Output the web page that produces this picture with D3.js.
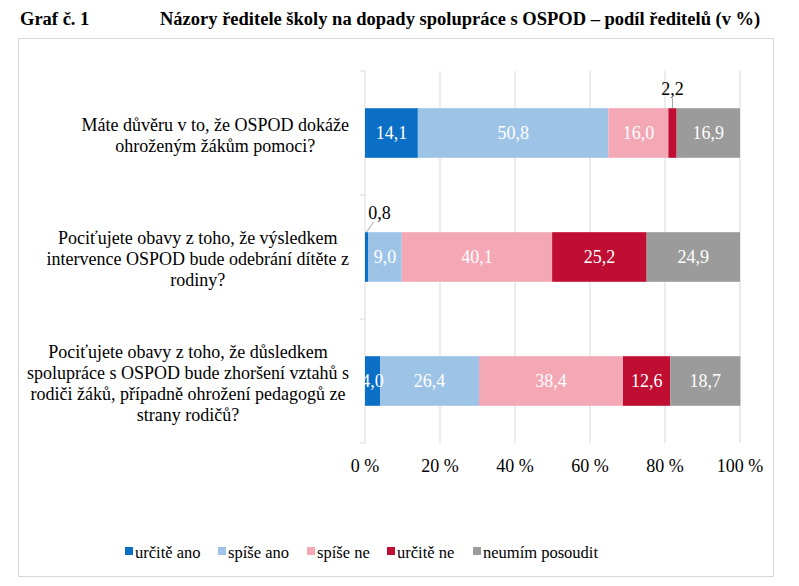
<!DOCTYPE html>
<html>
<head>
<meta charset="utf-8">
<script src="https://cdn.jsdelivr.net/npm/d3@7"></script>
<style>
  body { margin: 0; background: #fff; }
</style>
</head>
<body>
<svg id="chart"></svg>
<script>
// categories (questions), top to bottom
const questions = [
  ["Máte důvěru v to, že OSPOD dokáže", "ohroženým žákům pomoci?"],
  ["Pociťujete obavy z toho, že výsledkem", "intervence OSPOD bude odebrání dítěte z", "rodiny?"],
  ["Pociťujete obavy z toho, že důsledkem", "spolupráce s OSPOD bude zhoršení vztahů s", "rodiči žáků, případně ohrožení pedagogů ze", "strany rodičů?"]
];
const seriesNames = ["určitě ano", "spíše ano", "spíše ne", "určitě ne", "neumím posoudit"];
const seriesColors = ["#0b6fc6", "#9dc3e6", "#f4a7b5", "#c00d32", "#9b9b9b"];
// values per question, in series order
const values = [
  [14.1, 50.8, 16.0, 2.2, 16.9],
  [0.8, 9.0, 40.1, 25.2, 24.9],
  [4.0, 26.4, 38.4, 12.6, 18.7]
];
const xTicks = [0, 20, 40, 60, 80, 100];

const width = 799, height = 586;
const font = 'Liberation Serif';
const svg = d3.select('#chart').attr('width', width).attr('height', height);

// frame
svg.append('rect')
  .attr('x', 18.5).attr('y', 38.5).attr('width', 755).attr('height', 538)
  .style('fill', 'none').style('stroke', '#d9d9d9').style('stroke-width', 1);

// title
svg.append('text').attr('x', 20).attr('y', 25)
  .attr('font-family', font)
  .style('font-weight', 'bold').style('font-size', '18.5px').text('Graf č. 1');
svg.append('text').attr('x', 160).attr('y', 25)
  .attr('font-family', font)
  .style('font-weight', 'bold').style('font-size', '18.5px')
  .text('Názory ředitele školy na dopady spolupráce s OSPOD – podíl ředitelů (v %)');

const x = d3.scaleLinear().domain([0, 100]).range([365, 740]);
const y = d3.scaleBand().domain(d3.range(questions.length)).range([71, 443])
  .paddingInner(0.6).paddingOuter(0.3);

// gridlines
svg.selectAll('line.grid')
  .data(xTicks.slice(1))
  .enter().append('line')
  .attr('class', 'grid')
  .attr('x1', d => x(d)).attr('x2', d => x(d))
  .attr('y1', 71).attr('y2', 443)
  .style('stroke', '#d9d9d9');

// vertical axis with ticks between categories
svg.append('line')
  .attr('x1', x(0)).attr('x2', x(0)).attr('y1', 71).attr('y2', 443)
  .style('stroke', '#d9d9d9');
const step = y.step();
svg.selectAll('line.sep')
  .data(d3.range(questions.length + 1))
  .enter().append('line')
  .attr('class', 'sep')
  .attr('x1', x(0) - 5).attr('x2', x(0))
  .attr('y1', i => 71 + i * step).attr('y2', i => 71 + i * step)
  .style('stroke', '#d9d9d9');

// x axis labels
svg.selectAll('text.xtick')
  .data(xTicks)
  .enter().append('text')
  .attr('class', 'xtick')
  .attr('x', d => x(d)).attr('y', 472)
  .attr('text-anchor', 'middle')
  .attr('font-family', font)
  .style('font-size', '18px')
  .text(d => d + ' %');

// stacked segments
const segs = values.flatMap((row, qi) => {
  let acc = 0;
  return row.map((v, si) => {
    const s = { qi, si, v, x0: acc, x1: acc + v };
    acc += v;
    return s;
  });
});

svg.selectAll('rect.seg')
  .data(segs)
  .enter().append('rect')
  .attr('class', 'seg')
  .attr('x', d => x(d.x0))
  .attr('width', d => x(d.x1) - x(d.x0))
  .attr('y', d => y(d.qi))
  .attr('height', y.bandwidth())
  .style('fill', d => seriesColors[d.si]);

const fmt = v => v.toFixed(1).replace('.', ',');

// labels inside bars
svg.selectAll('text.val')
  .data(segs.filter(d => d.v >= 3))
  .enter().append('text')
  .attr('class', 'val')
  .attr('x', d => x((d.x0 + d.x1) / 2))
  .attr('y', d => y(d.qi) + y.bandwidth() / 2)
  .attr('dy', '0.35em')
  .attr('text-anchor', 'middle')
  .attr('font-family', font)
  .style('font-size', '18px')
  .style('fill', '#fff')
  .text(d => fmt(d.v));

// small values labelled above with leader lines
const small = segs.filter(d => d.v < 3);
small.forEach(d => {
  const cx = x((d.x0 + d.x1) / 2);
  const top = y(d.qi);
  const first = d.qi === 0;
  svg.append('line')
    .attr('x1', cx).attr('y1', top)
    .attr('x2', first ? cx : cx + 7).attr('y2', top - 10)
    .style('stroke', '#a6a6a6');
  svg.append('text')
    .attr('x', first ? cx : cx + 13).attr('y', top - 13)
    .attr('text-anchor', 'middle')
    .attr('font-family', font)
    .style('font-size', '18px')
    .style('fill', '#000')
    .text(fmt(d.v));
});

// question labels: block right-aligned near the axis, lines centred inside it
const lineH = 21;
const labelRight = 349;
questions.forEach((lines, qi) => {
  const cy = y(qi) + y.bandwidth() / 2 + 2;
  const t = svg.append('text')
    .attr('text-anchor', 'middle')
    .attr('font-family', font)
    .style('font-size', '18px');
  const spans = lines.map((ln, i) => t.append('tspan')
    .attr('y', cy + (i - (lines.length - 1) / 2) * lineH)
    .attr('dy', '0.35em')
    .text(ln));
  const maxW = d3.max(spans, s => s.node().getComputedTextLength());
  spans.forEach(s => s.attr('x', labelRight - maxW / 2));
});

// legend
const legendX = [125, 218, 307, 387, 473];
seriesNames.forEach((name, i) => {
  svg.append('rect')
    .attr('x', legendX[i]).attr('y', 547).attr('width', 8).attr('height', 8)
    .style('fill', seriesColors[i]);
  svg.append('text')
    .attr('x', legendX[i] + 10).attr('y', 552)
    .attr('dy', '0.35em')
    .attr('font-family', font)
    .style('font-size', '16.5px')
    .text(name);
});
</script>
</body>
</html>
